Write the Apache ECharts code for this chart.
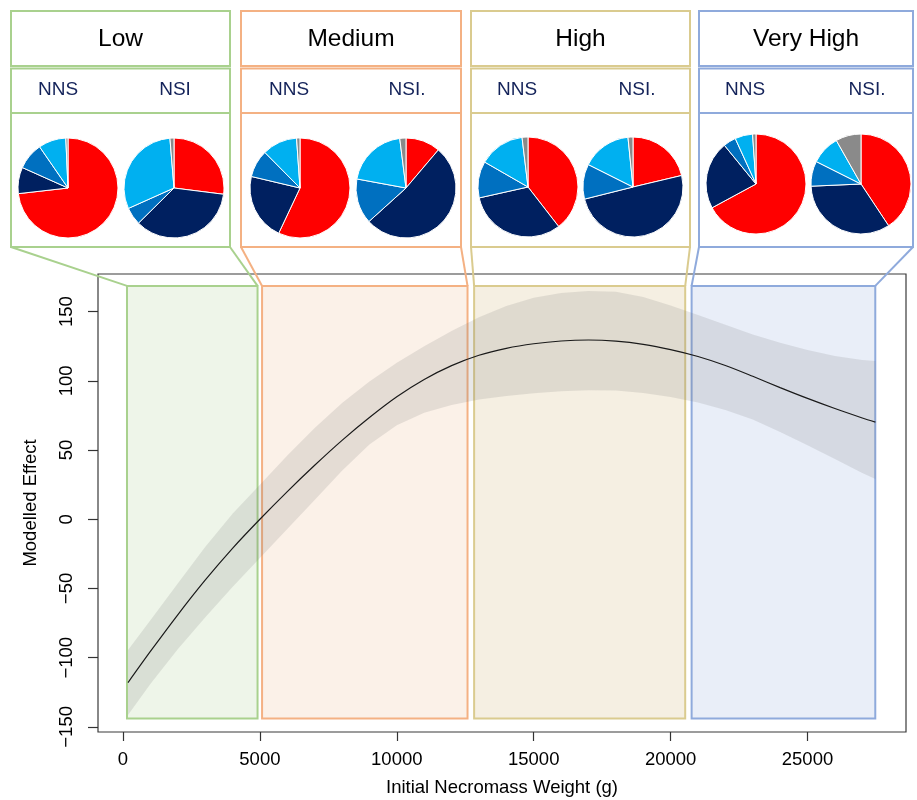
<!DOCTYPE html>
<html>
<head>
<meta charset="utf-8">
<script src="https://cdn.jsdelivr.net/npm/echarts@6/dist/echarts.min.js"></script>
<style>
html,body{margin:0;padding:0;background:#fff;}
#chart{width:917px;height:800px;}
</style>
</head>
<body>
<div id="chart"></div>
<script>
// ---------------- data ----------------
const necromass = [183, 1000, 2000, 3000, 4000, 5000, 6000, 7000, 8000, 9000, 10000, 11000, 12000, 13000, 14000, 15000, 16000, 17000, 18000, 19000, 20000, 21000, 22000, 23000, 24000, 25000, 26000, 27000, 27480];
const fitted = [-118, -95.5, -69, -44, -21, 0, 20, 39, 57, 73.5, 88.5, 101, 111, 118.5, 123.5, 126.8, 128.8, 129.5, 128.7, 126.4, 122.6, 117.6, 111.1, 103.3, 95.1, 87.3, 80, 73.2, 70.2];
const upperCI = [-94.5, -73, -46.5, -20, 4, 25, 46, 66, 84, 99.5, 113, 125, 136, 146, 154, 160, 163.5, 165, 164.3, 160.5, 154.5, 147.5, 140.5, 133.5, 127.5, 122.3, 118, 115, 114.3];
const lowerCI = [-141.5, -119, -94, -71, -49, -28, -7, 14, 35, 54, 68, 77, 82.5, 86.5, 89, 91, 92.5, 93.3, 93, 91.3, 88.3, 84.3, 79, 72, 63, 53.5, 43.5, 33.5, 29];

const binLabels = ['Low', 'Medium', 'High', 'Very High'];
const binStart = [146, 5079, 12824, 20767];
const binEnd = [4914, 12583, 20533, 27475];
const binEffectRange = [-144, 168.6];

const xTicks = [0, 5000, 10000, 15000, 20000, 25000];
const yTicks = [-150, -100, -50, 0, 50, 100, 150];

const pieLabelsNNS = ['NNS', 'NNS', 'NNS', 'NNS'];
const pieLabelsNSI = ['NSI', 'NSI.', 'NSI.', 'NSI.'];
// slice order: red, navy, mid blue, light blue, grey
const nnsLow = [73.2, 8.5, 8.7, 8.9, 0.7];
const nsiLow = [27.0, 35.6, 5.7, 30.4, 1.3];
const nnsMedium = [57.0, 21.7, 8.9, 11.3, 1.1];
const nsiMedium = [11.2, 52.1, 14.6, 20.1, 2.0];
const nnsHigh = [39.5, 32.0, 11.8, 14.8, 1.9];
const nsiHigh = [21.3, 49.8, 11.3, 16.0, 1.6];
const nnsVeryHigh = [67.1, 22.0, 4.1, 5.7, 1.1];
const nsiVeryHigh = [40.7, 33.6, 8.1, 9.4, 8.2];

// ---------------- styles / layout ----------------
const pieColors = ['#ff0000', '#002060', '#0070c0', '#00b0f0', '#8a8a8a'];
const binBorder = ['#a9d18e', '#f4b183', '#dacb8f', '#8faadc'];
const binFill = ['#eef5e9', '#fbf1e8', '#f5efe2', '#e9eef8'];
const FONT = "'Liberation Sans', Arial, Helvetica, sans-serif";

const layout = {
  panelLeft: [11, 241, 471, 699],
  panelRight: [230, 461, 690, 913],
  titleTop: 11, titleBottom: 66, labelTop: 68.5, labelBottom: 113, pieBottom: 247,
  nnsX: [58, 289, 517, 745], nsiX: [175, 407, 637, 867], labelY: 90,
  nnsPieX: [68, 300, 528, 756], nsiPieX: [174, 406, 633, 861], pieY: [188, 188, 187, 184], pieR: 50
};

const nnsGroups = [nnsLow, nnsMedium, nnsHigh, nnsVeryHigh];
const nsiGroups = [nsiLow, nsiMedium, nsiHigh, nsiVeryHigh];

const chart = echarts.init(document.getElementById('chart'), null, {renderer: 'canvas'});

function pieSeries(values, cx, cy) {
  return {
    type: 'pie',
    center: [cx, cy],
    radius: layout.pieR,
    startAngle: 90,
    clockwise: true,
    silent: true,
    animation: false,
    label: {show: false},
    labelLine: {show: false},
    itemStyle: {borderColor: '#ffffff', borderWidth: 1},
    emphasis: {disabled: true},
    data: values.map((v, i) => ({value: v, itemStyle: {color: pieColors[i]}}))
  };
}

const fmt = v => String(v).replace('-', '\u2212');

const series = [
  {
    type: 'custom',
    z: 1,
    silent: true,
    renderItem: function (params, api) {
      const p0 = api.coord([api.value(0), api.value(3)]);
      const p1 = api.coord([api.value(1), api.value(2)]);
      return {
        type: 'rect',
        shape: {x: p0[0], y: p0[1], width: p1[0] - p0[0], height: p1[1] - p0[1]},
        style: {fill: binFill[params.dataIndex], stroke: binBorder[params.dataIndex], lineWidth: 2}
      };
    },
    encode: {x: [0, 1], y: [2, 3]},
    data: binLabels.map((n, i) => [binStart[i], binEnd[i], binEffectRange[0], binEffectRange[1]])
  },
  {
    // confidence band: upper edge then lower edge, mapped through the axes
    type: 'custom',
    z: 2,
    silent: true,
    renderItem: function (params, api) {
      const up = necromass.map((x, i) => api.coord([x, upperCI[i]]));
      const lo = necromass.map((x, i) => api.coord([x, lowerCI[i]])).reverse();
      return {
        type: 'group',
        children: [
          {type: 'polygon', shape: {points: up.concat(lo)}, style: {fill: 'rgba(110,110,110,0.16)'}}
        ]
      };
    },
    encode: {x: 0, y: 1},
    data: [[necromass[0], fitted[0]]]
  },
  {
    type: 'line',
    name: 'fit',
    z: 3,
    smooth: 0.3,
    symbol: 'none',
    silent: true,
    lineStyle: {color: '#1a1a1a', width: 1.2},
    data: necromass.map((x, i) => [x, fitted[i]])
  }
];
for (let i = 0; i < 4; i++) {
  series.push(pieSeries(nnsGroups[i], layout.nnsPieX[i], layout.pieY[i]));
  series.push(pieSeries(nsiGroups[i], layout.nsiPieX[i], layout.pieY[i]));
}

const option = {
  animation: false,
  backgroundColor: '#ffffff',
  textStyle: {fontFamily: FONT},
  grid: {
    left: 98, right: 11, top: 274, bottom: 68,
    show: true, borderColor: '#3a3a3a', borderWidth: 1.2, backgroundColor: 'transparent',
    containLabel: false, outerBoundsMode: 'none'
  },
  xAxis: {
    type: 'value',
    min: -913, max: 28597,
    splitLine: {show: false},
    axisLine: {show: false, onZero: false},
    axisTick: {show: true, length: 9, customValues: xTicks, lineStyle: {color: '#333', width: 1.2}},
    axisLabel: {customValues: xTicks, formatter: fmt, fontSize: 18.5, color: '#000', margin: 18, fontFamily: FONT},
    name: 'Initial Necromass Weight (g)',
    nameLocation: 'middle',
    nameGap: 46,
    nameTextStyle: {fontSize: 18.5, color: '#000', fontFamily: FONT}
  },
  yAxis: {
    type: 'value',
    min: -153.7, max: 177.2,
    splitLine: {show: false},
    axisLine: {show: false, onZero: false},
    axisTick: {show: true, length: 10, customValues: yTicks, lineStyle: {color: '#333', width: 1.2}},
    axisLabel: {customValues: yTicks, formatter: fmt, rotate: 90, fontSize: 18.5, color: '#000', margin: 22, fontFamily: FONT},
    name: 'Modelled Effect',
    nameLocation: 'middle',
    nameGap: 58,
    nameRotate: 90,
    nameTextStyle: {fontSize: 18.5, color: '#000', fontFamily: FONT}
  },
  series: series
};
chart.setOption(option);

// ---------------- panels and connectors ----------------
const graphics = [];
for (let i = 0; i < 4; i++) {
  const L = layout.panelLeft[i], R = layout.panelRight[i], c = binBorder[i];
  graphics.push({type: 'rect', z: 10, shape: {x: L, y: layout.titleTop, width: R - L, height: layout.titleBottom - layout.titleTop}, style: {fill: 'none', stroke: c, lineWidth: 2}});
  graphics.push({type: 'rect', z: 10, shape: {x: L, y: layout.labelTop, width: R - L, height: layout.labelBottom - layout.labelTop}, style: {fill: 'none', stroke: c, lineWidth: 2}});
  graphics.push({type: 'rect', z: 10, shape: {x: L, y: layout.labelBottom, width: R - L, height: layout.pieBottom - layout.labelBottom}, style: {fill: 'none', stroke: c, lineWidth: 2}});
  graphics.push({type: 'text', z: 11, x: (L + R) / 2, y: (layout.titleTop + layout.titleBottom) / 2 + 1,
    style: {text: binLabels[i], font: '24.5px ' + FONT, fill: '#000', align: 'center', verticalAlign: 'middle'}});
  graphics.push({type: 'text', z: 11, x: layout.nnsX[i], y: layout.labelY,
    style: {text: pieLabelsNNS[i], font: '19px ' + FONT, fill: '#14235a', align: 'center', verticalAlign: 'middle'}});
  graphics.push({type: 'text', z: 11, x: layout.nsiX[i], y: layout.labelY,
    style: {text: pieLabelsNSI[i], font: '19px ' + FONT, fill: '#14235a', align: 'center', verticalAlign: 'middle'}});
  const tl = chart.convertToPixel({gridIndex: 0}, [binStart[i], binEffectRange[1]]);
  const tr = chart.convertToPixel({gridIndex: 0}, [binEnd[i], binEffectRange[1]]);
  graphics.push({type: 'line', z: 10, shape: {x1: L, y1: layout.pieBottom, x2: tl[0], y2: tl[1]}, style: {stroke: c, lineWidth: 2}});
  graphics.push({type: 'line', z: 10, shape: {x1: R, y1: layout.pieBottom, x2: tr[0], y2: tr[1]}, style: {stroke: c, lineWidth: 2}});
}
chart.setOption({graphic: {elements: graphics}});
</script>
</body>
</html>
